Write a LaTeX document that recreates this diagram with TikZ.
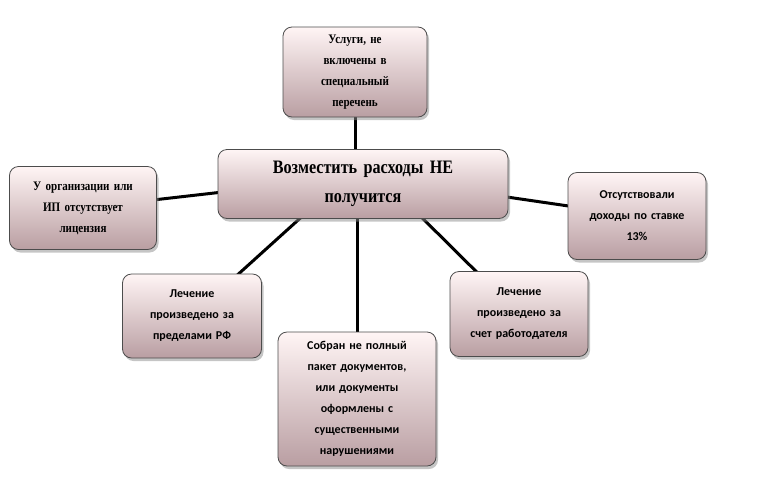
\documentclass[tikz,border=0pt]{standalone}
\usepackage{fontspec}
\setmainfont{Liberation Serif}
\newfontfamily\sansf{Carlito}
\newfontfamily\narrowser{Liberation Serif}[FakeStretch=0.85]
\usetikzlibrary{shadows,backgrounds}
\begin{document}
\begin{tikzpicture}[x=1pt,y=-1pt,
  box/.style={draw=black!70,line width=0.8pt,rounded corners=9pt,top color=white!90!red!40!white,bottom color={rgb,255:red,185;green,158;blue,162},
    drop shadow={shadow xshift=2pt,shadow yshift=-3pt,fill=black!45},align=center,inner sep=3pt},
  ser/.style={font=\narrowser\bfseries\fontsize{13}{21}\selectfont},
  san/.style={font=\sansf\bfseries\fontsize{12}{21}\selectfont},
  con/.style={line width=3pt,black}]
\useasboundingbox (0,0) rectangle (760,488);
\node[box,ser,minimum width=144pt,minimum height=90pt,text width=138pt] (t) at (355,72) {Услуги, не\\включены в\\специальный\\перечень};
\node[box,font=\narrowser\bfseries\fontsize{19}{29}\selectfont,minimum width=290pt,minimum height=69pt,text width=284pt] (c) at (363,184) {Возместить расходы НЕ\\получится};
\node[box,ser,minimum width=147pt,minimum height=83pt,text width=141pt] (l) at (83,208) {У организации или\\ИП отсутствует\\лицензия};
\node[box,san,minimum width=138pt,minimum height=87pt,text width=132pt] (r) at (637,216) {Отсутствовали\\доходы по ставке\\13\%};
\node[box,san,minimum width=139pt,minimum height=84pt,text width=133pt] (ll) at (192,316) {Лечение\\произведено за\\пределами РФ};
\node[box,san,minimum width=138pt,minimum height=85pt,text width=132pt] (lr) at (519,314) {Лечение\\произведено за\\счет работодателя};
\node[box,san,minimum width=158pt,minimum height=134pt,text width=152pt] (b) at (357,399) {Собран не полный\\пакет документов,\\или документы\\оформлены с\\существенными\\нарушениями};
\begin{scope}[on background layer]
\draw[con] (t.center) -- (t.center |- c.center);
\draw[con] ([yshift=8pt]c.center) -- (l.center);
\draw[con] ([yshift=8pt]c.center) -- (r.center);
\draw[con] ([xshift=-25pt]c.center) -- (ll.center);
\draw[con] (b.center |- c.center) -- (b.center);
\draw[con] ([xshift=25pt]c.center) -- (lr.center);
\end{scope}
\end{tikzpicture}
\end{document}
